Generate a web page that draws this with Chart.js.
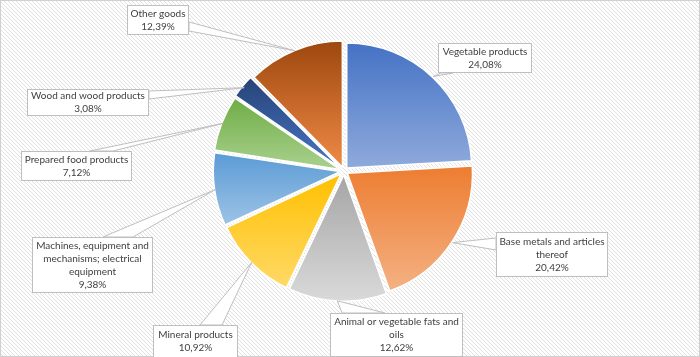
<!DOCTYPE html>
<html><head><meta charset="utf-8">
<script src="https://cdn.jsdelivr.net/npm/chart.js@4"></script>
<style>html,body{margin:0;padding:0;background:#fff}#wrap{width:700px;height:357px;position:relative}canvas{display:block}</style>
</head><body><div id="wrap"><canvas id="c" width="700" height="357"></canvas></div>
<script>
const categories = ['Vegetable products','Base metals and articles thereof','Animal or vegetable fats and oils','Mineral products','Machines, equipment and mechanisms; electrical equipment','Prepared food products','Wood and wood products','Other goods'];
const shares = [24.08, 20.42, 12.62, 10.92, 9.38, 7.12, 3.08, 12.39];
const topColors = ['#4472C4','#ED7D31','#A5A5A5','#FFC000','#5B9BD5','#70AD47','#264478','#9E480E'];
const bottomColors = ['#8FAADC','#F4B183','#D9D9D9','#FFD966','#9DC3E6','#A9D18E','#4A76C6','#F08A46'];

// label text wrapping and callout layout (layout only)
const labelLines = [
 ['Vegetable products'],
 ['Base metals and articles','thereof'],
 ['Animal or vegetable fats and','oils'],
 ['Mineral products'],
 ['Machines, equipment and','mechanisms; electrical','equipment'],
 ['Prepared food products'],
 ['Wood and wood products'],
 ['Other goods']
];
const labelBoxes = [
 {box:[438,43,94,30], base:[[441,73],[453,73]]},
 {box:[496,232,112,45], base:[[496,238],[496,250]]},
 {box:[330,313,133,44], base:[[342,313],[385,313]]},
 {box:[153,325,85,33], base:[[200,325],[222,325]]},
 {box:[32,237,121,56], base:[[103,237],[133,237]]},
 {box:[21,151,111,30], base:[[90,151],[113,151]]},
 {box:[27,89,122,27], base:[[149,91],[149,99]]},
 {box:[127,5,62,30], base:[[189,22],[189,31]]}
];
const FONT = '10px Lato';
const fmt = v => v.toFixed(2).replace('.', ',') + '%';

const bgPlugin = {
  id: 'bg',
  beforeDraw(chart) {
    const ctx = chart.ctx, W = chart.width, H = chart.height;
    ctx.save();
    ctx.fillStyle = '#fff';
    ctx.fillRect(0, 0, W, H);
    ctx.strokeStyle = '#E0E0E0';
    ctx.lineWidth = 1;
    ctx.beginPath();
    for (let k = -H; k < W + H; k += 4) {
      ctx.moveTo(k, 0);
      ctx.lineTo(k + H, H);
    }
    ctx.stroke();
    ctx.strokeStyle = '#D0D0D0';
    ctx.strokeRect(0.5, 0.5, W - 1, H - 1);
    ctx.restore();
  }
};

const gradPlugin = {
  id: 'grad',
  beforeDatasetsDraw(chart) {
    const meta = chart.getDatasetMeta(0);
    const ctx = chart.ctx;
    meta.data.forEach((el, i) => {
      const r = el.outerRadius;
      let ymin = el.y, ymax = el.y;
      for (let k = 0; k <= 40; k++) {
        const a = el.startAngle + (el.endAngle - el.startAngle) * k / 40;
        const y = el.y + r * Math.sin(a);
        ymin = Math.min(ymin, y); ymax = Math.max(ymax, y);
      }
      const g = ctx.createLinearGradient(0, ymin, 0, ymax);
      g.addColorStop(0, topColors[i]);
      g.addColorStop(1, bottomColors[i]);
      el.options.backgroundColor = g;
    });
  }
};

const calloutPlugin = {
  id: 'callouts',
  afterDatasetsDraw(chart) {
    const meta = chart.getDatasetMeta(0);
    const ctx = chart.ctx;
    ctx.save();
    ctx.font = FONT;
    ctx.textAlign = 'center';
    ctx.textBaseline = 'middle';
    meta.data.forEach((el, i) => {
      const mid = (el.startAngle + el.endAngle) / 2;
      const rr = el.outerRadius + 5;
      const tx = el.x + Math.cos(mid) * rr, ty = el.y + Math.sin(mid) * rr;
      const L = labelBoxes[i];
      const [bx, by, bw, bh] = L.box;
      ctx.beginPath();
      ctx.moveTo(L.base[0][0], L.base[0][1]);
      ctx.lineTo(tx, ty);
      ctx.lineTo(L.base[1][0], L.base[1][1]);
      ctx.closePath();
      ctx.fillStyle = '#fff';
      ctx.fill();
      ctx.strokeStyle = '#BFBFBF';
      ctx.lineWidth = 1;
      ctx.stroke();
      ctx.fillStyle = '#fff';
      ctx.fillRect(bx, by, bw, bh);
      ctx.strokeRect(bx + 0.5, by + 0.5, bw - 1, bh - 1);
      const lines = labelLines[i].concat([fmt(shares[i])]);
      const lh = 13;
      const cy = by + bh / 2 - (lines.length - 1) * lh / 2;
      ctx.fillStyle = '#404040';
      lines.forEach((t, j) => ctx.fillText(t, bx + bw / 2, cy + j * lh));
    });
    ctx.restore();
  }
};

new Chart(document.getElementById('c'), {
  type: 'pie',
  data: {
    labels: categories,
    datasets: [{
      data: shares,
      backgroundColor: topColors,
      borderColor: '#ffffff',
      borderWidth: 1.5,
      offset: 16,
      radius: 125
    }]
  },
  options: {
    responsive: false,
    animation: false,
    layout: { padding: { left: 0, right: 12, top: 0, bottom: 15 } },
    plugins: { legend: { display: false }, tooltip: { enabled: false }, title: { display: false } },
    events: []
  },
  plugins: [bgPlugin, gradPlugin, calloutPlugin]
});
</script>
</body></html>
